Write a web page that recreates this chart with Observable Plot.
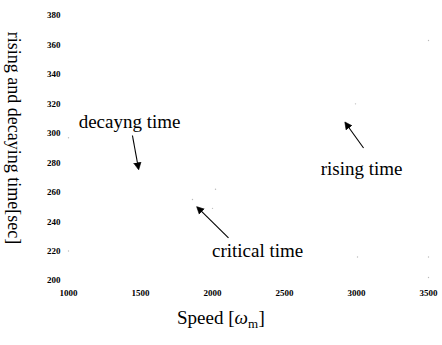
<!DOCTYPE html>
<html><head><meta charset="utf-8">
<script src="https://cdn.jsdelivr.net/npm/d3@7"></script>
<script src="https://cdn.jsdelivr.net/npm/@observablehq/plot@0.6"></script>
<style>body{margin:0;background:#fff} svg text{font-family:'Liberation Serif','Times New Roman',serif !important}</style>
</head><body><div id="chart"></div>
<script>
const xTicks = [1000, 1500, 2000, 2500, 3000, 3500];
const yTicks = [200, 220, 240, 260, 280, 300, 320, 340, 360, 380];
// faint remnants of the (faded) curves
const speckSpeed = [1000, 1000, 1861, 2000, 2021, 2993, 3007, 3500, 3500, 3500];
const speckTime  = [297, 220, 255, 249, 262, 320, 216, 216, 202, 363];
const labelNames = ["decayng time", "rising time", "critical time"];
const labelX = [1424, 3035, 2313];
const labelY = [308, 276, 220];
const arrowX1 = [1444, 3049, 2111];
const arrowY1 = [298.5, 290, 229];
const arrowX2 = [1486, 2924, 1896];
const arrowY2 = [276, 307, 249.6];

const specks = speckSpeed.map((x, i) => ({x, y: speckTime[i]}));
const labels = labelNames.map((t, i) => ({t, x: labelX[i], y: labelY[i]}));
const arrows = arrowX1.map((x1, i) => ({x1, y1: arrowY1[i], x2: arrowX2[i], y2: arrowY2[i]}));

const chart = Plot.plot({
  width: 442, height: 345,
  marginLeft: 68, marginRight: 14, marginTop: 15, marginBottom: 65,
  style: {background: "#fff", color: "#000"},
  x: {domain: [1000, 3500]},
  y: {domain: [200, 380]},
  marks: [
    Plot.axisX({ticks: xTicks, tickSize: 0, tickPadding: 9, fontSize: 9, fontWeight: "bold", label: null, tickFormat: d => String(d)}),
    Plot.axisY({ticks: yTicks, tickSize: 0, tickPadding: 8, fontSize: 9, fontWeight: "bold", label: null, textAnchor: "end"}),
    Plot.dot(specks, {x: "x", y: "y", r: 0.7, fill: "#bbb", stroke: null}),
    Plot.text(labels, {x: "x", y: "y", text: "t", fontSize: 19, fill: "#000"}),
    Plot.link(arrows, {x1: "x1", y1: "y1", x2: "x2", y2: "y2", stroke: "#000", strokeWidth: 1.1, markerEnd: "arrow"}),
    Plot.text(["rising and decaying time[sec]"], {frameAnchor: "left", textAnchor: "middle", dx: -55, dy: -10, rotate: 90, fontSize: 18, fill: "#000", ariaLabel: "ylabel"}),
    Plot.text(["Speed ["], {frameAnchor: "bottom", dx: -14, dy: 43, textAnchor: "end", fontSize: 19, fill: "#000"}),
    Plot.text(["ω"], {frameAnchor: "bottom", dx: -14, dy: 43, textAnchor: "start", fontSize: 19, fontStyle: "italic", fill: "#000"}),
    Plot.text(["m"], {frameAnchor: "bottom", dx: -0.5, dy: 47, textAnchor: "start", fontSize: 13, fill: "#000"}),
    Plot.text(["]"], {frameAnchor: "bottom", dx: 10, dy: 43, textAnchor: "start", fontSize: 19, fill: "#000"})
  ]
});
const svg = d3.select(chart);
svg.selectAll("marker").attr("markerWidth", 11).attr("markerHeight", 11);
svg.selectAll("marker path")
  .attr("d", "M-5,-3L1,0L-5,3Z")
  .attr("fill", "#000").attr("stroke", "#000").attr("stroke-width", 0.5);
svg.selectAll("g[aria-label='ylabel'] text").style("letter-spacing", "1.4px");
document.getElementById("chart").appendChild(chart);
</script></body></html>
